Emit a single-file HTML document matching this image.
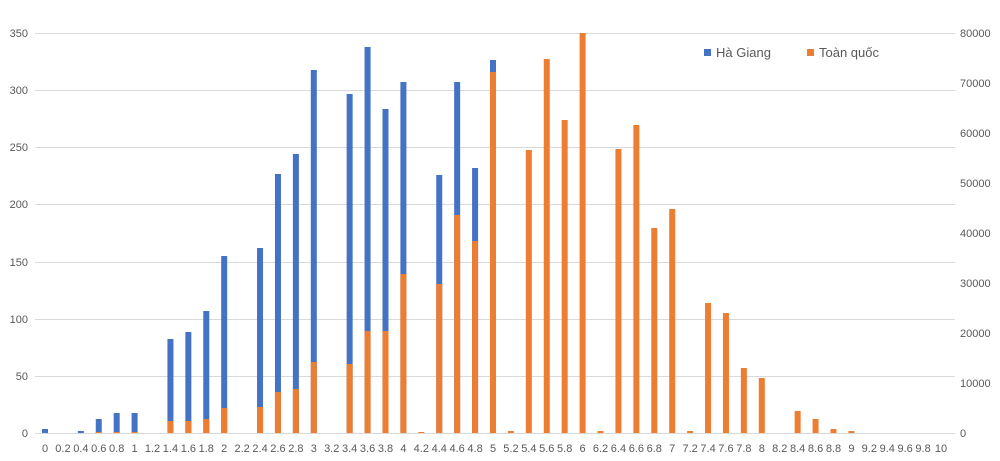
<!DOCTYPE html>
<html><head><meta charset="utf-8"><style>
body{margin:0;background:#fff}
text{font-family:"Liberation Sans",sans-serif;font-size:11px;fill:#595959}
</style></head><body>
<svg width="1000" height="456" xmlns="http://www.w3.org/2000/svg">
<rect width="1000" height="456" fill="#fff"/>
<g stroke="#d9d9d9" stroke-width="1">
<line x1="35" x2="955" y1="433.5" y2="433.5"/>
<line x1="35" x2="955" y1="376.5" y2="376.5"/>
<line x1="35" x2="955" y1="319.5" y2="319.5"/>
<line x1="35" x2="955" y1="262.5" y2="262.5"/>
<line x1="35" x2="955" y1="204.5" y2="204.5"/>
<line x1="35" x2="955" y1="147.5" y2="147.5"/>
<line x1="35" x2="955" y1="90.5" y2="90.5"/>
<line x1="35" x2="955" y1="33.5" y2="33.5"/>
</g>
<g text-anchor="end">
<text x="28" y="437">0</text><text x="28" y="380">50</text><text x="28" y="323">100</text><text x="28" y="266">150</text><text x="28" y="208">200</text><text x="28" y="151">250</text><text x="28" y="94">300</text><text x="28" y="37">350</text>
</g>
<g>
<text x="960" y="437">0</text><text x="960" y="387">10000</text><text x="960" y="337">20000</text><text x="960" y="287">30000</text><text x="960" y="237">40000</text><text x="960" y="187">50000</text><text x="960" y="137">60000</text><text x="960" y="87">70000</text><text x="960" y="37">80000</text>
</g>
<g id="bars"></g>
<g id="xl" text-anchor="middle"></g>
<rect x="704" y="49" width="7" height="7" fill="#4472c4"/>
<text x="716" y="57" style="font-size:13px">Hà Giang</text>
<rect x="807" y="49" width="7" height="7" fill="#ed7d31"/>
<text x="819" y="57" style="font-size:13px">Toàn quốc</text>
</svg>
<script>
var B={0:429,2:431,3:419,4:413,5:413,7:339,8:332,9:311,10:256,12:248,13:174,14:154,15:70,17:94,18:47,19:109,20:82,22:175,23:82,24:168,25:60};
var O={3:432,4:432,5:432,7:421,8:421,9:419,10:408,12:407,13:392,14:389,15:362,17:364,18:331,19:331,20:274,21:432,22:284,23:215,24:241,25:72,26:431,27:150,28:59,29:120,30:33,31:431,32:149,33:125,34:228,35:209,36:431,37:303,38:313,39:368,40:378,42:411,43:419,44:429,45:431};
var s='',l='',ns='http://www.w3.org/2000/svg';
for(var i=0;i<=50;i++){var x=45+i*17.92;
if(B[i]!==undefined)s+='<rect x="'+(x-3)+'" y="'+B[i]+'" width="6" height="'+(433-B[i])+'" fill="#4472c4"/>';
if(O[i]!==undefined)s+='<rect x="'+(x-3)+'" y="'+O[i]+'" width="6" height="'+(433-O[i])+'" fill="#ed7d31"/>';
var v=(i/5);l+='<text x="'+x+'" y="452">'+(Math.round(v*10)/10)+'</text>';}
document.getElementById('bars').innerHTML=s;document.getElementById('xl').innerHTML=l;
</script>
</body></html>
